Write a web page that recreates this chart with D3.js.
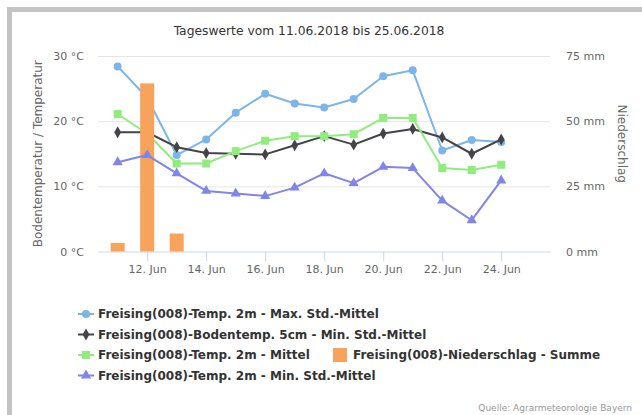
<!DOCTYPE html>
<html>
<head>
<meta charset="utf-8">
<script src="https://cdn.jsdelivr.net/npm/d3@7"></script>
<style>
  body { margin: 0; background: #fff; }
  svg { display: block; font-family: "DejaVu Sans", sans-serif; }
</style>
</head>
<body>
<div id="chart"></div>
<script>
const days = ['2018-06-11', '2018-06-12', '2018-06-13', '2018-06-14', '2018-06-15', '2018-06-16', '2018-06-17',
  '2018-06-18', '2018-06-19', '2018-06-20', '2018-06-21', '2018-06-22', '2018-06-23', '2018-06-24'];
const maxTemp = [28.4, 23.6, 14.8, 17.2, 21.3, 24.2, 22.7, 22.1, 23.4, 26.9, 27.8, 15.5, 17.1, 16.8];
const soilMin = [18.3, 18.3, 16.0, 15.1, 15.0, 14.9, 16.3, 17.7, 16.4, 18.1, 18.8, 17.5, 15.0, 17.2];
const meanTemp = [21.1, 18.1, 13.5, 13.5, 15.4, 17.0, 17.7, 17.7, 18.0, 20.5, 20.5, 12.8, 12.5, 13.3];
const minTemp = [13.7, 14.8, 12.0, 9.3, 8.9, 8.5, 9.8, 12.0, 10.5, 13.0, 12.8, 7.8, 4.8, 10.9];
const rain = [3.3, 64.5, 6.9, 0, 0, 0, 0, 0, 0, 0, 0, 0, 0, 0];

const tickDays = ['2018-06-12', '2018-06-14', '2018-06-16', '2018-06-18', '2018-06-20', '2018-06-22', '2018-06-24'];
const tempTicks = [0, 10, 20, 30];
const rainTicks = [0, 25, 50, 75];

const names = {
  max: 'Freising(008)-Temp. 2m - Max. Std.-Mittel',
  soil: 'Freising(008)-Bodentemp. 5cm - Min. Std.-Mittel',
  mean: 'Freising(008)-Temp. 2m - Mittel',
  rain: 'Freising(008)-Niederschlag - Summe',
  min: 'Freising(008)-Temp. 2m - Min. Std.-Mittel'
};

const width = 642, height = 415;
const plot = {left: 98, right: 550, top: 56, bottom: 251.5};
const parse = d3.timeParse('%Y-%m-%d');

const svg = d3.select('#chart').append('svg')
  .attr('width', width)
  .attr('height', height);

// grey frame round the chart
svg.append('rect')
  .attr('x', 9.5).attr('y', 9.5)
  .attr('width', width).attr('height', height)
  .attr('fill', '#fff')
  .attr('stroke', '#c4c4c4')
  .attr('stroke-width', 5);

const x = d3.scaleTime()
  .domain([new Date(2018, 5, 10, 8), new Date(2018, 5, 25, 15, 40)])
  .range([plot.left, plot.right]);

const yT = d3.scaleLinear().domain([0, 30]).range([plot.bottom, plot.top]);
const yR = d3.scaleLinear().domain([0, 75]).range([plot.bottom, plot.top]);

// title
svg.append('text')
  .attr('x', 309).attr('y', 35)
  .attr('text-anchor', 'middle')
  .attr('font-size', '12.3px')
  .attr('fill', '#333')
  .text('Tageswerte vom 11.06.2018 bis 25.06.2018');

// left axis with grid
const yAxisL = svg.append('g')
  .attr('transform', `translate(${plot.left}, 0)`)
  .call(d3.axisLeft(yT).tickValues(tempTicks)
    .tickSize(-(plot.right - plot.left)).tickPadding(14)
    .tickFormat(d => d + ' °C'));
yAxisL.select('.domain').remove();
yAxisL.selectAll('line').attr('stroke', d => d === 0 ? 'none' : '#e6e6e6');
yAxisL.selectAll('text').attr('fill', '#666').attr('font-size', '11px').attr('font-family', '"DejaVu Sans", sans-serif');

const yAxisR = svg.append('g')
  .attr('transform', `translate(${plot.right}, 0)`)
  .call(d3.axisRight(yR).tickValues(rainTicks).tickSize(0).tickPadding(16)
    .tickFormat(d => d + ' mm'));
yAxisR.select('.domain').remove();
yAxisR.selectAll('text').attr('fill', '#666').attr('font-size', '11px').attr('font-family', '"DejaVu Sans", sans-serif');

// x axis
const xAxis = svg.append('g')
  .attr('transform', `translate(0, ${plot.bottom})`)
  .call(d3.axisBottom(x).tickValues(tickDays.map(parse))
    .tickSize(10).tickSizeOuter(0).tickPadding(4)
    .tickFormat(d3.timeFormat('%-d. %b')));
xAxis.select('.domain').attr('stroke', '#ccd6eb');
xAxis.selectAll('line').attr('stroke', '#ccd6eb');
xAxis.selectAll('text').attr('fill', '#666').attr('font-size', '11px').attr('font-family', '"DejaVu Sans", sans-serif');

// axis titles
svg.append('text')
  .attr('transform', `translate(42, ${(plot.top + plot.bottom) / 2}) rotate(-90)`)
  .attr('text-anchor', 'middle')
  .attr('font-size', '12px')
  .attr('fill', '#666')
  .text('Bodentemperatur / Temperatur');

svg.append('text')
  .attr('transform', `translate(618, ${(plot.top + plot.bottom) / 2 - 10}) rotate(90)`)
  .attr('text-anchor', 'middle')
  .attr('font-size', '12px')
  .attr('fill', '#666')
  .text('Niederschlag');

const dates = days.map(parse);
const toPoints = vals => vals.map((v, i) => ({date: dates[i], v}));

const line = d3.line()
  .x(d => x(d.date))
  .y(d => yT(d.v));

const series = [
  {key: 'max', values: maxTemp, color: '#7cb5ec', symbol: d3.symbolCircle, size: 50},
  {key: 'soil', values: soilMin, color: '#434348', symbol: d3.symbolDiamond, size: 40},
  {key: 'mean', values: meanTemp, color: '#90ed7d', symbol: d3.symbolSquare, size: 64},
  {key: 'min', values: minTemp, color: '#8085e9', symbol: d3.symbolTriangle, size: 45}
];

function drawSeries(s) {
  const pts = toPoints(s.values);
  const g = svg.append('g');
  g.append('path')
    .datum(pts)
    .attr('fill', 'none')
    .attr('stroke', s.color)
    .attr('stroke-width', 2)
    .attr('stroke-linejoin', 'round')
    .attr('d', line);
  g.selectAll('path.marker')
    .data(pts)
    .enter()
    .append('path')
    .attr('class', 'marker')
    .attr('transform', d => `translate(${x(d.date)}, ${yT(d.v)})`)
    .attr('d', d3.symbol().type(s.symbol).size(s.size))
    .attr('fill', s.color);
}

// draw order as in the legend: three lines, the bars, then the min line
drawSeries(series[0]);
drawSeries(series[1]);
drawSeries(series[2]);

const barW = 14;
svg.append('g').selectAll('rect')
  .data(toPoints(rain).filter(d => d.v > 0))
  .enter()
  .append('rect')
  .attr('x', d => x(d.date) - barW / 2)
  .attr('y', d => yR(d.v))
  .attr('width', barW)
  .attr('height', d => yR(0) - yR(d.v))
  .attr('fill', '#f7a35c');

drawSeries(series[3]);

// legend
const legend = svg.append('g')
  .attr('font-size', '12px')
  .attr('font-weight', 'bold')
  .attr('fill', '#333');

const rowY = [314, 334.5, 355, 375.5];
const colX = [78, 333];
const legendRows = [[series[0]], [series[1]], [series[2], 'rain'], [series[3]]];

legendRows.forEach((row, ri) => {
  row.forEach((item, ci) => {
    const g = legend.append('g').attr('transform', `translate(${colX[ci]}, ${rowY[ri]})`);
    if (item === 'rain') {
      g.append('rect')
        .attr('x', 0).attr('y', -7)
        .attr('width', 14).attr('height', 14)
        .attr('fill', '#f7a35c');
      g.append('text').attr('x', 20).attr('dy', '0.35em').text(names.rain);
    } else {
      g.append('line')
        .attr('x1', 0).attr('x2', 16)
        .attr('stroke', item.color).attr('stroke-width', 2);
      g.append('path')
        .attr('transform', 'translate(8, 0)')
        .attr('d', d3.symbol().type(item.symbol).size(item.size))
        .attr('fill', item.color);
      g.append('text').attr('x', 20).attr('dy', '0.35em').text(names[item.key]);
    }
  });
});

// credits
svg.append('text')
  .attr('x', 632).attr('y', 411)
  .attr('text-anchor', 'end')
  .attr('font-size', '9px')
  .attr('fill', '#999')
  .text('Quelle: Agrarmeteorologie Bayern');
</script>
</body>
</html>
